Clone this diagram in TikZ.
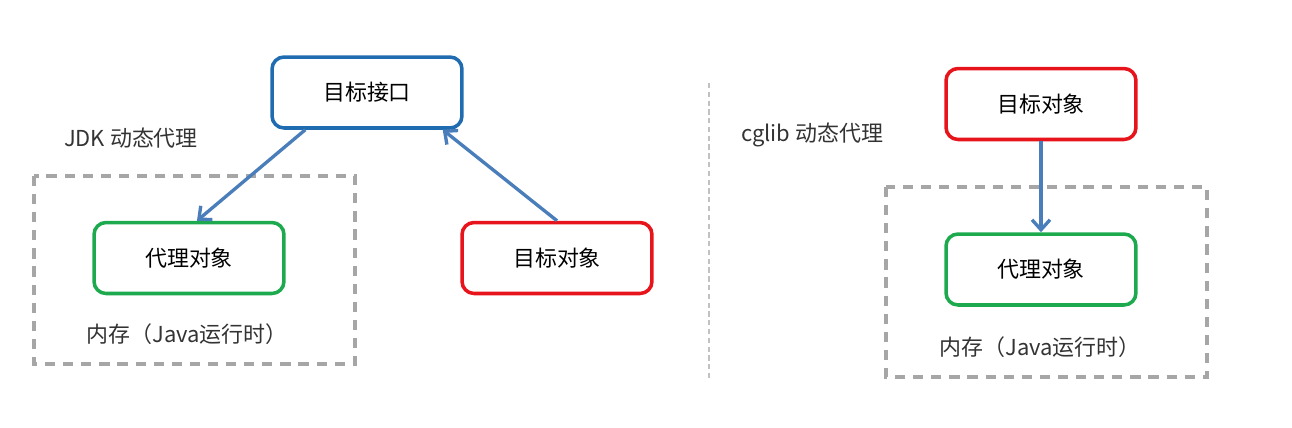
\documentclass[tikz,border=0pt]{standalone}
\usepackage{fontspec}
\setmainfont{Noto Sans CJK SC}
\usepackage{tikz}
\usetikzlibrary{arrows.meta}
\usepackage{xcolor}

\definecolor{ifblue}{HTML}{1F6DB0}
\definecolor{objred}{HTML}{E8141C}
\definecolor{pxgreen}{HTML}{1DAA4E}
\definecolor{arrblue}{HTML}{4A7EBB}
\definecolor{memgray}{HTML}{A6A6A6}

\tikzset{
    objbox/.style={draw, line width=2pt, rounded corners=0.24cm, fill=white,
        minimum width=3.8cm, minimum height=1.42cm, font=\fontsize{12.5}{15}\selectfont},
    label/.style={font=\fontsize{12.5}{15}\selectfont, text=black!80},
    link/.style={draw=arrblue, line width=1.9pt, -{Straight Barb[length=2mm,width=3.6mm]}},
    membox/.style={draw=memgray, line width=2.1pt, dash pattern=on 5.8pt off 4.5pt}
}

\begin{document}
\begin{tikzpicture}[x=0.02cm, y=-0.02cm]
    \useasboundingbox (0,0) rectangle (1292,427);

    % JDK side
    \draw[membox] (34,176) rectangle (355,364);
    \node[label] (jdk) at (131,138) {JDK 动态代理};
    \node[objbox, draw=ifblue] (intf) at (367,92.5) {目标接口};
    \node[objbox, draw=pxgreen] (proxyL) at (189,258) {代理对象};
    \node[objbox, draw=objred] (tgtL) at (557,258) {目标对象};
    \node[label] (memL) at (187,334) {内存（Java运行时）};

    \draw[link] ([xshift=0.7cm]intf.south west) -- ([xshift=0.16cm]proxyL.north);
    \draw[link] (tgtL.north) -- ([xshift=-0.42cm]intf.south east);

    % separator
    \draw[memgray!70, line width=0.8pt, dash pattern=on 3pt off 2pt] (709,83) -- (709,378);

    % cglib side
    \draw[membox] (886,187) rectangle (1207,377);
    \node[label] (cglib) at (812,135) {cglib 动态代理};
    \node[objbox, draw=objred] (tgtR) at (1041,104) {目标对象};
    \node[objbox, draw=pxgreen] (proxyR) at (1041,269.5) {代理对象};
    \node[label] (memR) at (1040,347) {内存（Java运行时）};

    \draw[link] (tgtR.south) -- (proxyR.north);

\end{tikzpicture}
\end{document}
